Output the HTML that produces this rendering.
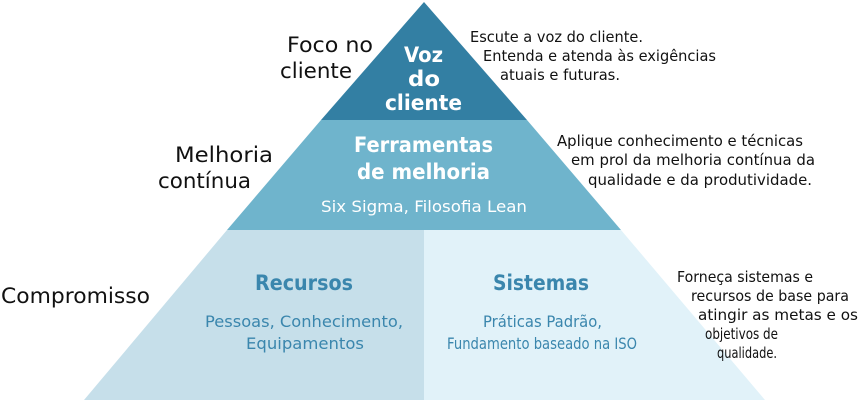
<!DOCTYPE html>
<html><head><meta charset="utf-8"><style>
body{margin:0;background:#fff;}
svg text{font-family:"DejaVu Sans","Liberation Sans",sans-serif;}
</style></head><body>
<svg width="859" height="400" viewBox="0 0 859 400" xmlns="http://www.w3.org/2000/svg">
<polygon points="424,2 527,120 321,120" fill="#337fa3"/>
<polygon points="321,120 527,120 621,230 227,230" fill="#6fb4cc"/>
<polygon points="227,230 424,230 424,400 84,400" fill="#c6dfea"/>
<polygon points="424,230 621,230 765,400 424,400" fill="#e1f2f9"/>
<g fill="#fff" font-weight="bold" font-size="21">
<text x="404" y="62" textLength="39" lengthAdjust="spacingAndGlyphs">Voz</text>
<text x="408" y="86" textLength="32" lengthAdjust="spacingAndGlyphs">do</text>
<text x="385" y="110" textLength="77" lengthAdjust="spacingAndGlyphs">cliente</text>
<text x="354" y="152" textLength="139" lengthAdjust="spacingAndGlyphs">Ferramentas</text>
<text x="357" y="179" textLength="133" lengthAdjust="spacingAndGlyphs">de melhoria</text>
</g>
<text x="321" y="212" fill="#fff" font-size="16" textLength="206" lengthAdjust="spacingAndGlyphs">Six Sigma, Filosofia Lean</text>
<g fill="#3a86ad">
<text x="255" y="290" font-size="21" font-weight="bold" textLength="98" lengthAdjust="spacingAndGlyphs">Recursos</text>
<text x="205" y="327" font-size="16" textLength="198" lengthAdjust="spacingAndGlyphs">Pessoas, Conhecimento,</text>
<text x="246" y="349" font-size="16" textLength="118" lengthAdjust="spacingAndGlyphs">Equipamentos</text>
<text x="493" y="290" font-size="21" font-weight="bold" textLength="96" lengthAdjust="spacingAndGlyphs">Sistemas</text>
<text x="483" y="327" font-size="16" textLength="119" lengthAdjust="spacingAndGlyphs">Práticas Padrão,</text>
<text x="447" y="349" font-size="16" textLength="190" lengthAdjust="spacingAndGlyphs">Fundamento baseado na ISO</text>
</g>
<g fill="#111" font-size="21">
<text x="287" y="52" textLength="86" lengthAdjust="spacingAndGlyphs">Foco no</text>
<text x="280" y="78" textLength="72" lengthAdjust="spacingAndGlyphs">cliente</text>
<text x="175" y="162" textLength="98" lengthAdjust="spacingAndGlyphs">Melhoria</text>
<text x="158" y="188" textLength="93" lengthAdjust="spacingAndGlyphs">contínua</text>
<text x="1" y="303" textLength="149" lengthAdjust="spacingAndGlyphs">Compromisso</text>
</g>
<g fill="#111" font-size="15">
<text x="470" y="42" textLength="173" lengthAdjust="spacingAndGlyphs">Escute a voz do cliente.</text>
<text x="483" y="61" textLength="233" lengthAdjust="spacingAndGlyphs">Entenda e atenda às exigências</text>
<text x="500" y="80" textLength="120" lengthAdjust="spacingAndGlyphs">atuais e futuras.</text>
<text x="557" y="146" textLength="246" lengthAdjust="spacingAndGlyphs">Aplique conhecimento e técnicas</text>
<text x="571" y="165" textLength="244" lengthAdjust="spacingAndGlyphs">em prol da melhoria contínua da</text>
<text x="588" y="185" textLength="224" lengthAdjust="spacingAndGlyphs">qualidade e da produtividade.</text>
<text x="677" y="282" textLength="136" lengthAdjust="spacingAndGlyphs">Forneça sistemas e</text>
<text x="691" y="301" textLength="158" lengthAdjust="spacingAndGlyphs">recursos de base para</text>
<text x="698" y="320" textLength="160" lengthAdjust="spacingAndGlyphs">atingir as metas e os</text>
<text x="705" y="339" textLength="73" lengthAdjust="spacingAndGlyphs">objetivos de</text>
<text x="717" y="358" textLength="60" lengthAdjust="spacingAndGlyphs">qualidade.</text>
</g>
</svg>
</body></html>
